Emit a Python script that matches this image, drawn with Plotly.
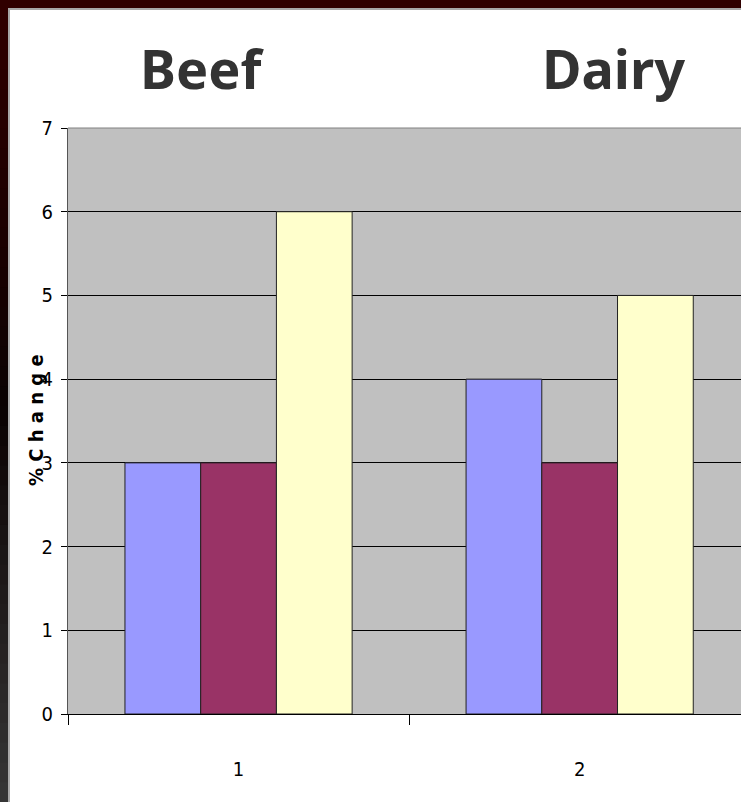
import plotly.graph_objects as go

categories = ["1", "2"]
series_a = [3, 4]
series_b = [3, 3]
series_c = [6, 5]
titles = ["Beef", "Dairy"]
y_ticks = [0, 1, 2, 3, 4, 5, 6, 7]

W, H = 741, 802
ML, MR, MT, MB = 68, 0, 128, 88
PW, PH = W - ML - MR, H - MT - MB
NARROW = "DejaVu Sans Condensed, Liberation Sans Narrow, Liberation Sans, sans-serif"

def px(x):
    return (x - ML) / PW

def py(y):
    return (H - MB - y) / PH

fig = go.Figure()
colors = ["#9999FF", "#993366", "#FFFFCC"]
for vals, col in zip([series_a, series_b, series_c], colors):
    fig.add_trace(go.Bar(x=categories, y=vals, marker=dict(color=col, line=dict(color="#222222", width=1)),
                         showlegend=False, hoverinfo="skip"))

shapes = []
n = 40
def lerp(c1, c2, t):
    return tuple(int(round(a + (b - a) * t)) for a, b in zip(c1, c2))
top_c, mid_c, bot_c = (0x30, 0x00, 0x00), (0x0a, 0x02, 0x02), (0x36, 0x36, 0x36)
for i in range(n):
    y0 = 10 + (H - 10) * i / n
    y1 = 10 + (H - 10) * (i + 1) / n
    t = (i + 0.5) / n
    if t < 0.5:
        c = lerp(top_c, mid_c, t / 0.5)
    else:
        c = lerp(mid_c, bot_c, (t - 0.5) / 0.5)
    shapes.append(dict(type="rect", xref="paper", yref="paper", x0=px(-2), x1=px(8), y0=py(y0), y1=py(y1 + 1),
                       fillcolor="rgb(%d,%d,%d)" % c, line=dict(width=0), layer="below"))
shapes.append(dict(type="rect", xref="paper", yref="paper", x0=px(8), x1=px(W + 2), y0=py(8), y1=py(H + 2),
                   fillcolor="#A8A8A8", line=dict(width=0), layer="below"))
shapes.append(dict(type="rect", xref="paper", yref="paper", x0=px(10), x1=px(W + 2), y0=py(10), y1=py(H + 2),
                   fillcolor="#FFFFFF", line=dict(width=0), layer="below"))
shapes.append(dict(type="rect", xref="paper", yref="paper", x0=0, x1=1, y0=0, y1=1,
                   fillcolor="#C0C0C0", line=dict(width=0), layer="below"))
shapes.append(dict(type="line", xref="paper", yref="paper", x0=0, x1=1, y0=1, y1=1,
                   line=dict(color="#808080", width=1)))

annotations = []
for t, xc in zip(titles, [202, 613]):
    annotations.append(dict(text="<b>%s</b>" % t, xref="paper", yref="paper", x=px(xc), y=py(68),
                            xanchor="center", yanchor="middle", showarrow=False,
                            font=dict(family="Noto Sans", size=54, color="#333333")))
annotations.append(dict(text="<b>% C h a n g e</b>", xref="paper", yref="paper", x=px(36), y=py(420),
                        xanchor="center", yanchor="middle", showarrow=False, textangle=-90,
                        font=dict(family=NARROW, size=20, color="#000000")))

fig.update_layout(
    width=W, height=H,
    margin=dict(l=ML, r=MR, t=MT, b=MB, pad=0),
    paper_bgcolor="#300000",
    plot_bgcolor="#C0C0C0",
    barmode="group", bargap=0.334, bargroupgap=0,
    shapes=shapes, annotations=annotations,
    font=dict(family=NARROW, color="#000000"),
)
fig.update_xaxes(type="category", range=[-0.5, 1.473], tickson="boundaries", ticks="outside", ticklen=10,
                 tickcolor="#000000", showgrid=False, showline=True, linecolor="#000000", linewidth=1,
                 tickfont=dict(size=20), ticklabelstandoff=37, zeroline=False)
fig.update_yaxes(range=[0, 7], tickvals=y_ticks, ticks="outside", ticklen=6, tickcolor="#000000",
                 showgrid=True, gridcolor="#000000", gridwidth=1, showline=True, linecolor="#555555",
                 linewidth=1, tickfont=dict(size=20), zeroline=False, ticklabelstandoff=4)

fig.write_html("out.html", config={"displayModeBar": False},
               post_script="document.body.style.margin='0';document.body.style.overflow='hidden';")
